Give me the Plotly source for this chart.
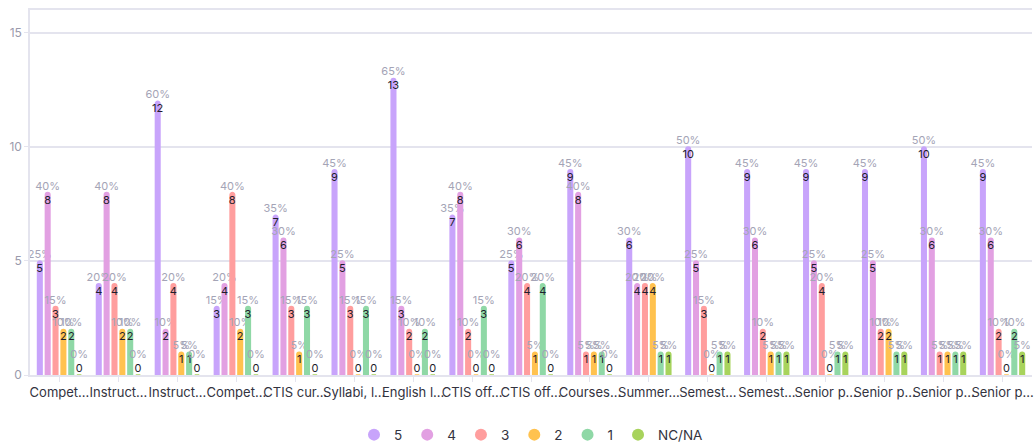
import plotly.graph_objects as go

categories = ["Compet...", "Instruct...", "Instruct...", "Compet...", "CTIS cur...",
              "Syllabi, l...", "English l...", "CTIS off...", "CTIS off...", "Courses...",
              "Summer...", "Semest...", "Semest...", "Senior p...", "Senior p...",
              "Senior p...", "Senior p..."]

series_names = ["5", "4", "3", "2", "1", "NC/NA"]
s5 = [5, 4, 12, 3, 7, 9, 13, 7, 5, 9, 6, 10, 9, 9, 9, 10, 9]
s4 = [8, 8, 2, 4, 6, 5, 3, 8, 6, 8, 4, 5, 6, 5, 5, 6, 6]
s3 = [3, 4, 4, 8, 3, 3, 2, 2, 4, 1, 4, 3, 2, 4, 2, 1, 2]
s2 = [2, 2, 1, 2, 1, 0, 0, 0, 1, 1, 4, 0, 1, 0, 2, 1, 0]
s1 = [2, 2, 1, 3, 3, 3, 2, 3, 4, 1, 1, 1, 1, 1, 1, 1, 2]
sna = [0, 0, 0, 0, 0, 0, 0, 0, 0, 0, 1, 1, 1, 1, 1, 1, 1]
series_values = [s5, s4, s3, s2, s1, sna]
colors = ["#c8a4fb", "#e2a0e2", "#ff9e9e", "#ffc24f", "#8fd8a6", "#a8d35c"]

y_tickvals = [0, 5, 10, 15]

FONT = "Inter"
PCT_COLOR = "#a4a4b6"
CNT_COLOR = "#1e1e2c"

x = list(range(len(categories)))
totals = [sum(col) for col in zip(*series_values)]

fig = go.Figure()
for name, vals, col in zip(series_names, series_values, colors):
    pct = [round(v * 100 / t) if t else 0 for v, t in zip(vals, totals)]
    # visible bar with count inside top
    fig.add_trace(go.Bar(
        x=x, y=vals, name=name, offsetgroup=name, showlegend=False,
        marker=dict(color=col, line=dict(color=col, width=1.5)),
        text=[str(v) if v > 0 else "" for v in vals],
        textposition="inside", insidetextanchor="end", textangle=0,
        constraintext="none",
        insidetextfont=dict(family=FONT, size=11, color=CNT_COLOR),
        cliponaxis=False, hoverinfo="skip",
    ))
    # transparent overlay with percentage above
    outside = []
    for v, p in zip(vals, pct):
        if v > 0:
            outside.append(f"{p}%")
        else:
            outside.append(f"{p}%<br><span style='color:{CNT_COLOR}'>{v}</span>")
    fig.add_trace(go.Bar(
        x=x, y=vals, name=name, offsetgroup=name, showlegend=False,
        marker=dict(color="rgba(0,0,0,0)", line=dict(width=0)),
        text=outside, textposition="outside", textangle=0, constraintext="none",
        outsidetextfont=dict(family=FONT, size=11, color=PCT_COLOR),
        cliponaxis=False, hoverinfo="skip",
    ))

for name, col in zip(series_names, colors):
    fig.add_trace(go.Scatter(
        x=[None], y=[None], mode="markers", name=name,
        marker=dict(color=col, size=12, symbol="circle"),
    ))

fig.update_layout(
    width=1035, height=446,
    margin=dict(l=30, r=3, t=10, b=71),
    paper_bgcolor="white", plot_bgcolor="white",
    barmode="group", bargap=0.2, bargroupgap=0.42, barcornerradius=3,
    font=dict(family=FONT, size=12, color="#333340"),
    legend=dict(orientation="h", x=0.5, xanchor="center",
                yref="container", y=0.025, yanchor="middle",
                bgcolor="rgba(0,0,0,0)",
                font=dict(family=FONT, size=13.5, color="#333340"),
                itemsizing="constant"),
    xaxis=dict(
        tickmode="array", tickvals=x, ticktext=categories, tickangle=0,
        range=[-0.5, len(categories) - 0.5],
        showline=True, mirror=True, linecolor="#e4e4ee", linewidth=1.5,
        ticks="outside", ticklen=5, tickcolor="#e4e4ee",
        showgrid=False, zeroline=False,
        tickfont=dict(family=FONT, size=13, color="#333340"),
        automargin=False,
    ),
    yaxis=dict(
        range=[0, 16], tickmode="array", tickvals=y_tickvals,
        showline=True, linecolor="#e4e4ee", linewidth=1.5,
        gridcolor="#e4e4ee", gridwidth=1.5,
        ticks="outside", ticklen=4, tickcolor="#e4e4ee",
        zeroline=False,
        tickfont=dict(family=FONT, size=12, color="#9a9aac"),
        automargin=False,
    ),
)

fig.write_html("out.html", config={"displayModeBar": False},
               post_script="document.body.style.margin='0';document.body.style.overflow='hidden';")
